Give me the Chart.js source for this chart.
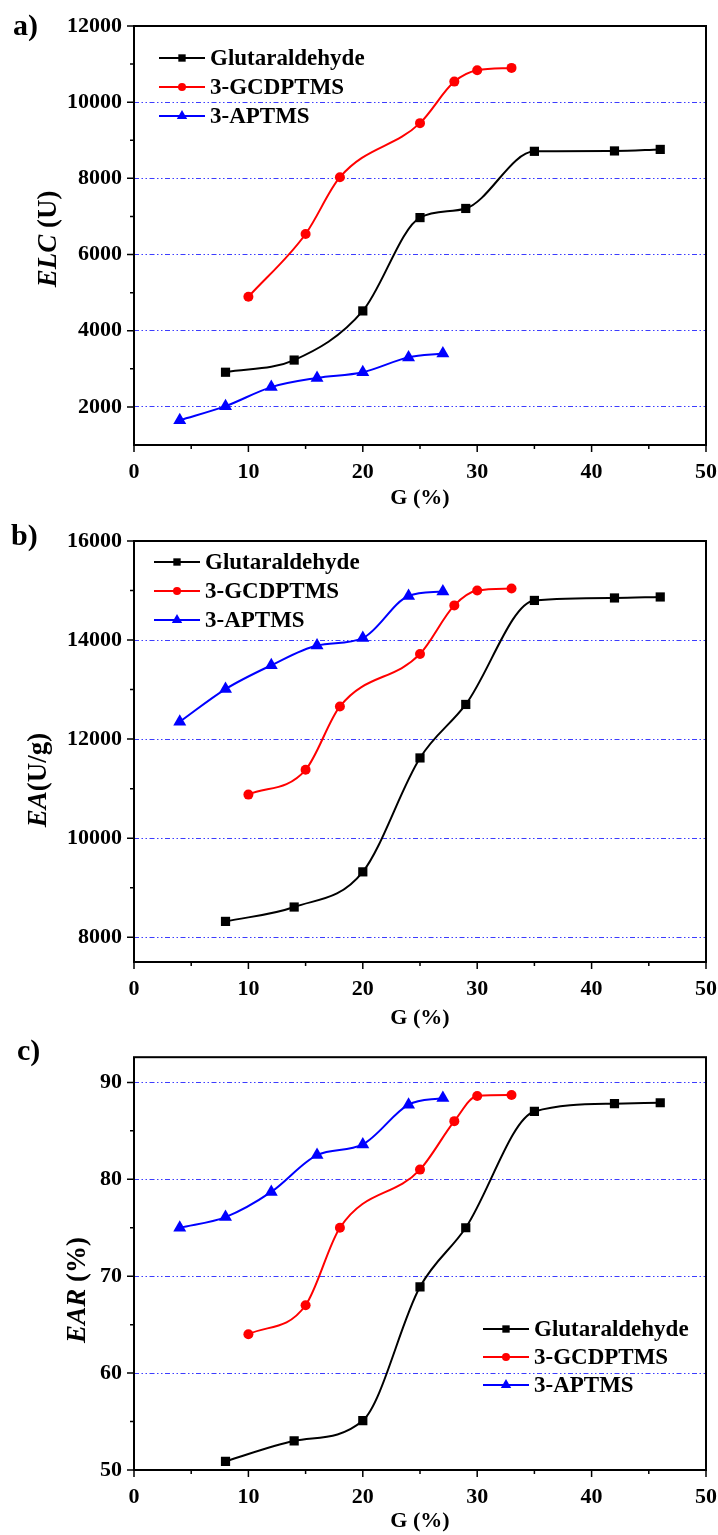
<!DOCTYPE html>
<html>
<head>
<meta charset="utf-8">
<script src="https://cdn.jsdelivr.net/npm/chart.js@4.4.0/dist/chart.umd.min.js"></script>
<style>
  html, body { margin: 0; padding: 0; background: #fff; }
  .panel { position: absolute; left: 0; width: 718px; }
  #pa { top: 0; height: 512px; }
  #pb { top: 512px; height: 520px; }
  #pc { top: 1032px; height: 503px; }
</style>
</head>
<body>
<div class="panel" id="pa"><canvas id="chartA"></canvas></div>
<div class="panel" id="pb"><canvas id="chartB"></canvas></div>
<div class="panel" id="pc"><canvas id="chartC"></canvas></div>
<script>
// G (%) values for each crosslinker
const glutX = [8, 14, 20, 25, 29, 35, 42, 46];
const gcdX = [10, 15, 18, 25, 28, 30, 33];
const aptX = [4, 8, 12, 16, 20, 24, 27];

// a) ELC (U)
const elcGlut = [2910, 3230, 4520, 6970, 7210, 8710, 8720, 8760];
const elcGcd = [4890, 6540, 8030, 9450, 10540, 10840, 10900];
const elcApt = [1650, 2020, 2520, 2760, 2910, 3300, 3400];

// b) EA (U/g)
const eaGlut = [8320, 8610, 9320, 11620, 12700, 14800, 14850, 14870];
const eaGcd = [10880, 11380, 12660, 13720, 14700, 15000, 15040];
const eaApt = [12350, 13010, 13490, 13890, 14040, 14890, 14980];

// c) EAR (%)
const earGlut = [50.9, 53.0, 55.1, 68.9, 75.0, 87.0, 87.8, 87.9];
const earGcd = [64.0, 67.0, 75.0, 81.0, 86.0, 88.6, 88.7];
const earApt = [75.0, 76.1, 78.7, 82.5, 83.6, 87.7, 88.4];

const seriesNames = ['Glutaraldehyde', '3-GCDPTMS', '3-APTMS'];

// tick values
const xMajor = [0, 10, 20, 30, 40, 50];
const xMinor = [5, 15, 25, 35, 45];
const elcMajor = [2000, 4000, 6000, 8000, 10000, 12000];
const elcMinor = [3000, 5000, 7000, 9000, 11000];
const eaMajor = [8000, 10000, 12000, 14000, 16000];
const eaMinor = [9000, 11000, 13000, 15000];
const earMajor = [50, 60, 70, 80, 90];
const earMinor = [55, 65, 75, 85];

const SERIF = '"Liberation Serif", "Times New Roman", serif';

function pts(xs, ys) {
  return xs.map((x, i) => ({ x: x, y: ys[i] }));
}

function drawMarker(ctx, style, x, y, r, color) {
  ctx.fillStyle = color;
  ctx.beginPath();
  if (style === 'rect') {
    const s = r * Math.SQRT1_2;
    ctx.rect(x - s, y - s, 2 * s, 2 * s);
  } else if (style === 'circle') {
    ctx.arc(x, y, r, 0, Math.PI * 2);
  } else {
    ctx.moveTo(x, y - r);
    ctx.lineTo(x + r * 0.866, y + r * 0.5);
    ctx.lineTo(x - r * 0.866, y + r * 0.5);
    ctx.closePath();
  }
  ctx.fill();
}

// frame, minor ticks, y title, panel letter and legend
const figurePlugin = {
  id: 'figure',
  afterDraw(chart, args, opts) {
    const ctx = chart.ctx;
    const area = chart.chartArea;
    const xs = chart.scales.x;
    const ys = chart.scales.y;
    ctx.save();

    // ticks
    ctx.strokeStyle = '#000';
    ctx.lineWidth = 1.5;
    ctx.beginPath();
    xMajor.forEach(v => {
      const px = xs.getPixelForValue(v);
      ctx.moveTo(px, area.bottom); ctx.lineTo(px, area.bottom + 7);
    });
    xMinor.forEach(v => {
      const px = xs.getPixelForValue(v);
      ctx.moveTo(px, area.bottom); ctx.lineTo(px, area.bottom + 4);
    });
    opts.yMajor.forEach(v => {
      const py = ys.getPixelForValue(v);
      ctx.moveTo(area.left, py); ctx.lineTo(area.left - 7, py);
    });
    opts.yMinor.forEach(v => {
      const py = ys.getPixelForValue(v);
      ctx.moveTo(area.left, py); ctx.lineTo(area.left - 4, py);
    });
    ctx.stroke();

    // frame
    ctx.lineWidth = 2;
    ctx.strokeRect(area.left, area.top, area.right - area.left, area.bottom - area.top);

    // panel letter
    ctx.fillStyle = '#000';
    ctx.font = 'bold 30px ' + SERIF;
    ctx.textAlign = 'left';
    ctx.textBaseline = 'middle';
    ctx.fillText(opts.panel, opts.panelPos[0], opts.panelPos[1]);

    // y title (mixed italic / upright)
    ctx.save();
    ctx.translate(opts.yTitlePos[0], opts.yTitlePos[1]);
    ctx.rotate(-Math.PI / 2);
    let total = 0;
    opts.yTitle.forEach(p => {
      ctx.font = p[1] + ' 27px ' + SERIF;
      total += ctx.measureText(p[0]).width;
    });
    let tx = -total / 2;
    opts.yTitle.forEach(p => {
      ctx.font = p[1] + ' 27px ' + SERIF;
      ctx.fillText(p[0], tx, 0);
      tx += ctx.measureText(p[0]).width;
    });
    ctx.restore();

    // legend
    ctx.font = 'bold 23px ' + SERIF;
    chart.data.datasets.forEach((ds, i) => {
      const lx = opts.legendPos[0];
      const ly = opts.legendPos[1] + i * opts.legendGap;
      ctx.strokeStyle = ds.borderColor;
      ctx.lineWidth = 2;
      ctx.beginPath();
      ctx.moveTo(lx, ly); ctx.lineTo(lx + 46, ly);
      ctx.stroke();
      drawMarker(ctx, ds.pointStyle, lx + 23, ly, ds.pointRadius * 0.8, ds.borderColor);
      ctx.fillStyle = '#000';
      ctx.fillText(ds.label, lx + 51, ly + 1);
    });

    ctx.restore();
  }
};

function makeDatasets(glut, gcd, apt) {
  const base = { borderWidth: 2, cubicInterpolationMode: 'monotone', pointBorderWidth: 0 };
  return [
    Object.assign({}, base, {
      label: seriesNames[0], data: pts(glutX, glut),
      borderColor: '#000000', backgroundColor: '#000000',
      pointStyle: 'rect', pointRadius: 6.5
    }),
    Object.assign({}, base, {
      label: seriesNames[1], data: pts(gcdX, gcd),
      borderColor: '#ff0000', backgroundColor: '#ff0000',
      pointStyle: 'circle', pointRadius: 5
    }),
    Object.assign({}, base, {
      label: seriesNames[2], data: pts(aptX, apt),
      borderColor: '#0000ff', backgroundColor: '#0000ff',
      pointStyle: 'triangle', pointRadius: 7.5
    })
  ];
}

function makeOptions(cfg) {
  return {
    responsive: true,
    maintainAspectRatio: false,
    animation: false,
    layout: { padding: { top: cfg.top, right: 0, bottom: 0, left: 0 } },
    plugins: {
      legend: { display: false },
      tooltip: { enabled: false },
      figure: cfg.figure
    },
    scales: {
      x: {
        type: 'linear',
        min: 0,
        max: 50,
        afterBuildTicks: (scale) => { scale.ticks = xMajor.map(v => ({ value: v })); },
        afterFit: (scale) => {
          scale.height = cfg.xHeight;
          scale.paddingLeft = 0;
          scale.paddingRight = 12;
        },
        border: { display: false },
        grid: { display: false, drawTicks: false },
        ticks: {
          padding: 14,
          color: '#000',
          maxRotation: 0,
          callback: (v) => String(v),
          font: { family: SERIF, size: 22, weight: 'bold' }
        },
        title: {
          display: true,
          text: 'G (%)',
          color: '#000',
          padding: { top: 0, bottom: 0 },
          font: { family: SERIF, size: 22, weight: 'bold' }
        }
      },
      y: {
        type: 'linear',
        min: cfg.yMin,
        max: cfg.yMax,
        afterBuildTicks: (scale) => { scale.ticks = cfg.figure.yMajor.map(v => ({ value: v })); },
        afterFit: (scale) => { scale.width = 134; },
        border: { display: false, dash: [5, 2.5, 1.5, 2.5, 1.5, 2.5] },
        grid: {
          drawTicks: false,
          color: 'rgba(40, 40, 255, 0.9)',
          lineWidth: 1
        },
        ticks: {
          padding: 12,
          color: '#000',
          callback: (v) => String(v),
          font: { family: SERIF, size: 22, weight: 'bold' }
        }
      }
    }
  };
}

// a) ELC
const chartA = new Chart(document.getElementById('chartA').getContext('2d'), {
  type: 'line',
  data: { datasets: makeDatasets(elcGlut, elcGcd, elcApt) },
  options: makeOptions({
    top: 26, xHeight: 67, yMin: 1000, yMax: 12000,
    figure: {
      panel: 'a)', panelPos: [13, 27],
      yTitle: [['ELC', 'italic bold'], [' (U)', 'bold']], yTitlePos: [49, 239],
      legendPos: [159, 58], legendGap: 29,
      yMajor: elcMajor, yMinor: elcMinor
    }
  }),
  plugins: [figurePlugin]
});

// b) EA
const chartB = new Chart(document.getElementById('chartB').getContext('2d'), {
  type: 'line',
  data: { datasets: makeDatasets(eaGlut, eaGcd, eaApt) },
  options: makeOptions({
    top: 29, xHeight: 70, yMin: 7500, yMax: 16000,
    figure: {
      panel: 'b)', panelPos: [11, 25],
      yTitle: [['EA', 'italic bold'], ['(U/g)', 'bold']], yTitlePos: [39, 268],
      legendPos: [154, 50], legendGap: 29,
      yMajor: eaMajor, yMinor: eaMinor
    }
  }),
  plugins: [figurePlugin]
});

// c) EAR
const chartC = new Chart(document.getElementById('chartC').getContext('2d'), {
  type: 'line',
  data: { datasets: makeDatasets(earGlut, earGcd, earApt) },
  options: makeOptions({
    top: 14, xHeight: 65, yMin: 50, yMax: 92.6,
    figure: {
      panel: 'c)', panelPos: [17, 20],
      yTitle: [['EAR', 'italic bold'], [' (%)', 'bold']], yTitlePos: [78, 258],
      legendPos: [483, 297], legendGap: 28,
      yMajor: earMajor, yMinor: earMinor
    }
  }),
  plugins: [figurePlugin]
});
</script>
</body>
</html>
